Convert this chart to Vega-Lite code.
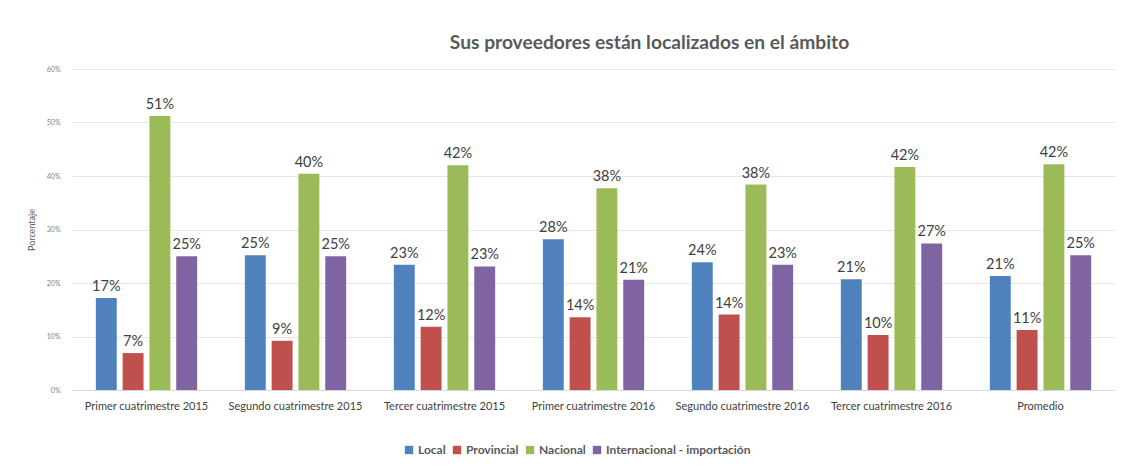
{
  "$schema": "https://vega.github.io/schema/vega-lite/v6.json",
  "autosize": {"type": "none"},
  "width": 1043,
  "height": 321,
  "padding": {"left": 72, "top": 69, "right": 23, "bottom": 82},
  "background": "white",
  "title": {
    "text": "Sus proveedores están localizados en el ámbito",
    "font": "Lato",
    "fontSize": 19.2,
    "fontWeight": "bold",
    "color": "#595959",
    "anchor": "middle",
    "dx": 56,
    "offset": 12
  },
  "data": {
    "values": [
      {"periodo": "Primer cuatrimestre 2015", "ambito": "Local", "valor": 0.172},
      {"periodo": "Primer cuatrimestre 2015", "ambito": "Provincial", "valor": 0.069},
      {"periodo": "Primer cuatrimestre 2015", "ambito": "Nacional", "valor": 0.512},
      {"periodo": "Primer cuatrimestre 2015", "ambito": "Internacional - importación", "valor": 0.250},
      {"periodo": "Segundo cuatrimestre 2015", "ambito": "Local", "valor": 0.252},
      {"periodo": "Segundo cuatrimestre 2015", "ambito": "Provincial", "valor": 0.092},
      {"periodo": "Segundo cuatrimestre 2015", "ambito": "Nacional", "valor": 0.404},
      {"periodo": "Segundo cuatrimestre 2015", "ambito": "Internacional - importación", "valor": 0.250},
      {"periodo": "Tercer cuatrimestre 2015", "ambito": "Local", "valor": 0.234},
      {"periodo": "Tercer cuatrimestre 2015", "ambito": "Provincial", "valor": 0.118},
      {"periodo": "Tercer cuatrimestre 2015", "ambito": "Nacional", "valor": 0.420},
      {"periodo": "Tercer cuatrimestre 2015", "ambito": "Internacional - importación", "valor": 0.231},
      {"periodo": "Primer cuatrimestre 2016", "ambito": "Local", "valor": 0.282},
      {"periodo": "Primer cuatrimestre 2016", "ambito": "Provincial", "valor": 0.136},
      {"periodo": "Primer cuatrimestre 2016", "ambito": "Nacional", "valor": 0.377},
      {"periodo": "Primer cuatrimestre 2016", "ambito": "Internacional - importación", "valor": 0.206},
      {"periodo": "Segundo cuatrimestre 2016", "ambito": "Local", "valor": 0.239},
      {"periodo": "Segundo cuatrimestre 2016", "ambito": "Provincial", "valor": 0.141},
      {"periodo": "Segundo cuatrimestre 2016", "ambito": "Nacional", "valor": 0.384},
      {"periodo": "Segundo cuatrimestre 2016", "ambito": "Internacional - importación", "valor": 0.234},
      {"periodo": "Tercer cuatrimestre 2016", "ambito": "Local", "valor": 0.207},
      {"periodo": "Tercer cuatrimestre 2016", "ambito": "Provincial", "valor": 0.103},
      {"periodo": "Tercer cuatrimestre 2016", "ambito": "Nacional", "valor": 0.417},
      {"periodo": "Tercer cuatrimestre 2016", "ambito": "Internacional - importación", "valor": 0.274},
      {"periodo": "Promedio", "ambito": "Local", "valor": 0.213},
      {"periodo": "Promedio", "ambito": "Provincial", "valor": 0.112},
      {"periodo": "Promedio", "ambito": "Nacional", "valor": 0.422},
      {"periodo": "Promedio", "ambito": "Internacional - importación", "valor": 0.252}
    ]
  },
  "encoding": {
    "x": {
      "field": "periodo",
      "type": "nominal",
      "sort": null,
      "scale": {"paddingInner": 0.32, "paddingOuter": 0.16},
      "axis": {
        "title": null,
        "labelAngle": 0,
        "labelFont": "Lato",
        "labelFontSize": 11,
        "labelColor": "#404040",
        "labelPadding": 10,
        "ticks": false,
        "domain": true,
        "domainColor": "#d9d9d9"
      }
    },
    "xOffset": {
      "field": "ambito",
      "type": "nominal",
      "sort": ["Local", "Provincial", "Nacional", "Internacional - importación"],
      "scale": {"paddingInner": 0.22}
    },
    "y": {
      "field": "valor",
      "type": "quantitative",
      "scale": {"domain": [0, 0.6]},
      "axis": {
        "title": "Porcentaje",
        "titleFont": "Lato",
        "titleFontSize": 9,
        "titleFontWeight": "normal",
        "titleColor": "#595959",
        "titlePadding": 10,
        "values": [0, 0.1, 0.2, 0.3, 0.4, 0.5, 0.6],
        "format": ".0%",
        "labelFont": "Lato",
        "labelFontSize": 7,
        "labelColor": "#7f7f7f",
        "labelPadding": 12,
        "ticks": false,
        "domain": false,
        "grid": true,
        "gridColor": "#e6e6e6"
      }
    }
  },
  "layer": [
    {
      "mark": {"type": "bar"},
      "encoding": {
        "color": {
          "field": "ambito",
          "type": "nominal",
          "sort": ["Local", "Provincial", "Nacional", "Internacional - importación"],
          "scale": {
            "domain": ["Local", "Provincial", "Nacional", "Internacional - importación"],
            "range": ["#4F81BD", "#C0504D", "#9BBB59", "#8064A2"]
          },
          "legend": {
            "title": null,
            "orient": "none",
            "legendX": 331,
            "legendY": 375,
            "direction": "horizontal",
            "symbolType": "square",
            "symbolSize": 70,
            "symbolStrokeWidth": 0,
            "labelFont": "Lato",
            "labelFontSize": 12,
            "labelFontWeight": "bold",
            "labelColor": "#595959",
            "columnPadding": 5,
            "labelOffset": 3
          }
        }
      }
    },
    {
      "mark": {"type": "text", "dy": -11, "font": "Lato", "fontSize": 14.5, "color": "#404040"},
      "encoding": {
        "text": {"field": "valor", "type": "quantitative", "format": ".0%"},
        "detail": {"field": "ambito"}
      }
    }
  ],
  "config": {"view": {"stroke": null}}
}
